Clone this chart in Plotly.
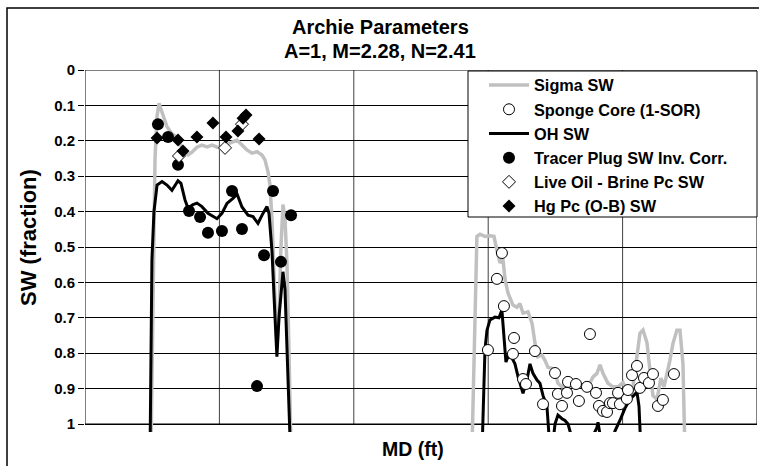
import plotly.graph_objects as go

# ---------------- data (MD in relative feet, SW fraction) ----------------
sigma_md = [49.1, 50.6, 52.1, 53.6, 55.1, 58.0, 61.0, 64.7, 68.4, 72.9, 76.6, 79.6, 83.3, 87.0,
            90.8, 94.5, 98.2, 100.4, 104.2, 109.4, 113.1, 116.8, 120.5, 124.2, 128.0, 131.7,
            133.9, 136.2, 137.6, 139.1, 139.9, 141.4, 142.8, 144.3, 145.8, 147.3, 148.8, 150.3,
            151.8, 153.3,
            287.9, 290.2, 291.6, 293.9, 297.6, 301.3, 304.3, 306.5, 308.8, 311.0, 312.5, 314.7,
            318.4, 321.4, 323.6, 325.9, 329.6, 332.6, 334.8, 337.0, 340.0, 342.2, 344.5, 347.4,
            349.7, 351.9, 354.9, 358.6, 362.3, 366.0, 369.8, 374.2, 378.0, 380.9, 383.2, 385.4,
            389.1, 392.8, 396.6, 400.3, 404.0, 407.7, 410.7, 412.9, 415.2, 418.1, 420.4, 422.6,
            425.6, 428.5, 430.8, 433.0, 435.2, 437.5, 440.4, 442.7, 444.9, 446.4]
sigma_sw = [1.08, 0.60, 0.25, 0.13, 0.094, 0.127, 0.16, 0.18, 0.19, 0.226, 0.24, 0.232, 0.218, 0.212,
            0.217, 0.212, 0.217, 0.221, 0.212, 0.203, 0.198, 0.212, 0.226, 0.235, 0.231, 0.24,
            0.254, 0.288, 0.325, 0.42, 0.53, 0.65, 0.78, 0.70, 0.50, 0.38, 0.42, 0.55,
            0.80, 1.08,
            1.08, 0.70, 0.47, 0.464, 0.47, 0.468, 0.47, 0.51, 0.545, 0.535, 0.59, 0.63,
            0.664, 0.67, 0.66, 0.687, 0.683, 0.715, 0.771, 0.81, 0.805, 0.82, 0.84, 0.843,
            0.853, 0.885, 0.895, 0.89, 0.88, 0.895, 0.89, 0.895, 0.867, 0.857, 0.833, 0.857,
            0.885, 0.895, 0.895, 0.883, 0.913, 0.895, 0.81, 0.744, 0.735, 0.77, 0.85, 0.92,
            0.93, 0.87, 0.895, 0.86, 0.82, 0.772, 0.735, 0.735, 0.83, 1.08]

oh_md = [48.4, 49.1, 49.8, 51.3, 53.6, 57.3, 61.0, 64.7, 69.2, 71.4, 74.4, 76.6, 80.4, 83.3,
         87.0, 91.5, 98.2, 101.9, 105.6, 110.1, 113.1, 116.8, 121.3, 125.0, 128.7, 132.4,
         135.4, 136.9, 139.1, 141.4, 142.8, 144.3, 145.8, 147.3, 148.8, 150.3, 151.8, 152.9,
         295.4, 297.6, 299.1, 301.3, 305.0, 308.0, 310.2, 311.0, 313.2, 314.7, 317.7, 319.9,
         322.2, 325.9, 328.8, 331.1, 333.3, 336.3, 338.5, 340.8, 343.7, 345.2, 347.4, 349.7,
         351.9, 354.9, 357.1, 359.4, 362.3, 372.0, 380.9, 381.7, 383.2, 390.6, 394.3, 398.0,
         401.8, 405.5, 409.2, 410.7, 412.2, 413.7]
oh_sw = [1.08, 0.75, 0.536, 0.40, 0.325, 0.315, 0.325, 0.34, 0.313, 0.32, 0.367, 0.39, 0.38, 0.376,
         0.386, 0.405, 0.42, 0.405, 0.377, 0.363, 0.35, 0.387, 0.41, 0.414, 0.433, 0.405,
         0.386, 0.405, 0.51, 0.70, 0.81, 0.70, 0.62, 0.57, 0.62, 0.78, 0.95, 1.08,
         1.08, 0.79, 0.735, 0.706, 0.698, 0.70, 0.678, 0.715, 0.825, 0.81, 0.814, 0.83,
         0.866, 0.913, 0.876, 0.83, 0.857, 0.876, 0.885, 0.92, 0.95, 1.03, 1.08, 1.0,
         0.975, 0.985, 0.99, 1.0, 1.04, 1.08, 1.01, 0.995, 1.03, 1.08, 1.02, 0.99,
         0.955, 0.93, 0.915, 0.91, 0.95, 1.08]

sponge_md = [310.2, 306.5, 311.7, 299.8, 319.2, 318.4, 334.8, 325.9, 328.1, 340.8, 349.7, 375.7,
             351.9, 354.9, 359.4, 358.6, 365.3, 367.5, 373.5, 380.2, 382.4, 385.4, 388.4, 390.6,
             392.8, 396.6, 398.0, 403.2, 404.0, 407.0, 410.7, 412.9, 415.9, 419.6, 422.6, 426.3,
             430.0, 438.2]
sponge_sw = [0.517, 0.590, 0.667, 0.791, 0.757, 0.802, 0.794, 0.873, 0.887, 0.944, 0.856, 0.746,
             0.915, 0.949, 0.881, 0.912, 0.887, 0.935, 0.895, 0.912, 0.949, 0.963, 0.966, 0.941,
             0.941, 0.912, 0.944, 0.929, 0.904, 0.862, 0.836, 0.898, 0.870, 0.884, 0.859, 0.949,
             0.932, 0.859]

tracer_md = [54.3, 61.8, 69.2, 77.4, 85.6, 91.5, 101.9, 109.4, 116.8, 139.9, 153.3, 133.2, 145.8, 128.0]
tracer_sw = [0.153, 0.189, 0.268, 0.398, 0.415, 0.460, 0.455, 0.342, 0.449, 0.342, 0.410, 0.523, 0.542, 0.893]

liveoil_md = [69.9, 104.2, 116.8]
liveoil_sw = [0.243, 0.220, 0.153]

hg_md = [53.6, 69.2, 72.9, 83.3, 95.2, 104.9, 113.8, 117.6, 119.8, 129.5]
hg_sw = [0.192, 0.198, 0.229, 0.189, 0.150, 0.189, 0.172, 0.136, 0.127, 0.195]

y_ticks = [0, 0.1, 0.2, 0.3, 0.4, 0.5, 0.6, 0.7, 0.8, 0.9, 1]
y_ticktext = ["0", "0.1", "0.2", "0.3", "0.4", "0.5", "0.6", "0.7", "0.8", "0.9", "1"]
x_grid = [0, 100, 200, 300, 400, 500]
x_range = [0, 500]
y_range = [1.0226, 0]

FONT = "Liberation Sans, Arial, sans-serif"

fig = go.Figure()
fig.add_trace(go.Scatter(x=sigma_md, y=sigma_sw, mode="lines", name="Sigma SW",
                         line=dict(color="#c0c0c0", width=3.5), legendrank=1))
fig.add_trace(go.Scatter(x=oh_md, y=oh_sw, mode="lines", name="OH SW",
                         line=dict(color="black", width=3), legendrank=3))
fig.add_trace(go.Scatter(x=sponge_md, y=sponge_sw, mode="markers", name="Sponge Core (1-SOR)",
                         marker=dict(symbol="circle", size=11, color="white",
                                     line=dict(color="black", width=1)), legendrank=2))
fig.add_trace(go.Scatter(x=tracer_md, y=tracer_sw, mode="markers", name="Tracer Plug SW Inv. Corr.",
                         marker=dict(symbol="circle", size=12, color="black"), legendrank=4))
fig.add_trace(go.Scatter(x=liveoil_md, y=liveoil_sw, mode="markers", name="Live Oil - Brine Pc SW",
                         marker=dict(symbol="diamond", size=10, color="white",
                                     line=dict(color="black", width=1)), legendrank=5))
fig.add_trace(go.Scatter(x=hg_md, y=hg_sw, mode="markers", name="Hg Pc (O-B) SW",
                         marker=dict(symbol="diamond", size=10, color="black"), legendrank=6))

# plot area: x 85..757 px, y(0)=70 px, y(1)=424 px, bottom of area 432 px
PW, PH, PL, PB = 672.0, 362.0, 85.0, 432.0


def px(x):
    return (x - PL) / PW


def py(y):
    return (PB - y) / PH


shapes = []
for gx in x_grid:
    col = "black" if gx in (0, 500) else "#404040"
    shapes.append(dict(type="line", xref="x", yref="y", x0=gx, x1=gx, y0=0, y1=1,
                       line=dict(color=col, width=1), layer="below"))
for gy in (0, 1):
    shapes.append(dict(type="line", xref="x", yref="y", x0=x_range[0], x1=x_range[1], y0=gy, y1=gy,
                       line=dict(color="black", width=1), layer="below"))
# outer chart border
shapes.append(dict(type="rect", xref="paper", yref="paper", x0=px(7), x1=px(800), y0=py(520), y1=py(8),
                   line=dict(color="black", width=1.5), layer="below"))
# legend box
shapes.append(dict(type="rect", xref="paper", yref="paper", x0=px(468), x1=px(757), y0=py(217), y1=py(71),
                   line=dict(color="black", width=1), fillcolor="white", layer="above"))

annotations = [
    dict(text="Archie Parameters", xref="paper", yref="paper", x=px(380), y=py(27),
         showarrow=False, xanchor="center", yanchor="middle",
         font=dict(family=FONT, size=20, color="black", weight="bold")),
    dict(text="A=1, M=2.28, N=2.41", xref="paper", yref="paper", x=px(380), y=py(51),
         showarrow=False, xanchor="center", yanchor="middle",
         font=dict(family=FONT, size=20, color="black", weight="bold")),
    dict(text="MD (ft)", xref="paper", yref="paper", x=px(413), y=py(449),
         showarrow=False, xanchor="center", yanchor="middle",
         font=dict(family=FONT, size=19.5, color="black", weight="bold")),
    dict(text="SW (fraction)", xref="paper", yref="paper", x=px(28), y=py(238), textangle=-90,
         showarrow=False, xanchor="center", yanchor="middle",
         font=dict(family=FONT, size=22, color="black", weight="bold")),
]

fig.update_layout(
    width=759, height=466,
    margin=dict(l=85, r=2, t=70, b=34),
    paper_bgcolor="white", plot_bgcolor="white",
    showlegend=True,
    legend=dict(x=px(484), y=py(68), xanchor="left", yanchor="top",
                bgcolor="rgba(0,0,0,0)", borderwidth=0,
                font=dict(family=FONT, size=16.3, color="black", weight="bold"),
                itemwidth=40, tracegroupgap=0),
    shapes=shapes,
    annotations=annotations,
    xaxis=dict(range=x_range, showgrid=False, zeroline=False, showline=False,
               showticklabels=False, ticks=""),
    yaxis=dict(range=y_range, tickvals=y_ticks, ticktext=y_ticktext,
               showgrid=True, gridcolor="black", gridwidth=1, zeroline=False, showline=False,
               ticks="outside", ticklen=6, tickcolor="black",
               tickfont=dict(family=FONT, size=15, color="black", weight="bold")),
)

fig.write_html("out.html", config={"displayModeBar": False},
               post_script="document.body.style.margin='0';document.body.style.overflow='hidden';")
